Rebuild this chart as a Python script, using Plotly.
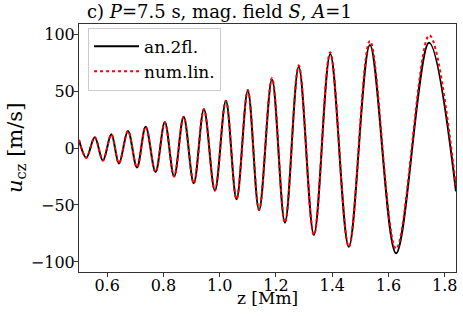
import plotly.graph_objects as go

# z positions [Mm] of the extrema
z_an = [0.500, 0.526, 0.556, 0.585, 0.615, 0.642, 0.674, 0.706, 0.737, 0.772,
        0.805, 0.838, 0.872, 0.908, 0.944, 0.983, 1.022, 1.060, 1.100, 1.140,
        1.186, 1.232, 1.281, 1.335, 1.393, 1.459, 1.534, 1.627, 1.744, 1.840]
u_an = [7.0, -8.5, 9.4, -11.0, 12.0, -13.5, 15.0, -17.0, 18.7, -21.0,
        22.5, -25.0, 27.5, -31.0, 34.0, -37.4, 41.5, -45.0, 50.3, -54.4,
        60.2, -65.5, 71.3, -76.3, 82.5, -86.6, 90.4, -92.4, 92.4, -38.0]

z_num = [0.500, 0.526, 0.556, 0.585, 0.615, 0.642, 0.674, 0.706, 0.737, 0.772,
         0.805, 0.838, 0.872, 0.908, 0.944, 0.983, 1.022, 1.060, 1.100, 1.140,
         1.186, 1.232, 1.281, 1.335, 1.393, 1.459, 1.534, 1.627, 1.745, 1.840]
u_num = [7.0, -8.5, 9.4, -11.0, 12.0, -13.5, 15.0, -17.0, 18.7, -21.0,
         22.5, -25.0, 27.5, -31.0, 34.0, -37.4, 41.5, -45.0, 50.8, -54.4,
         61.5, -65.5, 72.5, -76.3, 84.0, -86.6, 94.0, -88.5, 99.0, -34.0]

x_ticks = [0.6, 0.8, 1.0, 1.2, 1.4, 1.6, 1.8]
y_ticks = [-100, -50, 0, 50, 100]

FONT = "DejaVu Serif"

fig = go.Figure()
fig.add_trace(go.Scatter(x=z_an, y=u_an, mode="lines", name="an.2fl.",
                         line=dict(color="black", width=2, shape="spline", smoothing=1.0)))
fig.add_trace(go.Scatter(x=z_num, y=u_num, mode="lines", name="num.lin.",
                         line=dict(color="red", width=2, dash="dot", shape="spline", smoothing=1.0)))

axis_common = dict(showgrid=False, zeroline=False, showline=True, linecolor="#333",
                   linewidth=1, mirror=True, ticks="outside", ticklen=4, tickcolor="#333",
                   tickfont=dict(family=FONT, size=16, color="black"))

fig.update_layout(
    width=463, height=316,
    margin=dict(l=79, r=7, t=24, b=44),
    plot_bgcolor="white", paper_bgcolor="white",
    font=dict(family=FONT, color="black"),
    title=dict(text="c) <i>P</i>=7.5 s, mag. field <i>S</i>, <i>A</i>=1",
               font=dict(family=FONT, size=18, color="black"),
               x=87/463, xanchor="left", xref="container",
               y=1-12/316, yanchor="middle", yref="container"),
    xaxis=dict(range=[0.5, 1.84], tickvals=x_ticks, ticktext=[f"{v:.1f}" for v in x_ticks],
               ticklabelstandoff=-5, **axis_common),
    yaxis=dict(range=[-108.8, 108.8], tickvals=y_ticks,
               ticktext=["\u2212100", "\u221250", "0", "50", "100"],
               ticklabelstandoff=-4, **axis_common),
    legend=dict(x=0.024, y=0.985, xanchor="left", yanchor="top",
                bgcolor="rgba(255,255,255,0.8)", bordercolor="#ccc", borderwidth=1,
                itemwidth=45,
                font=dict(family=FONT, size=17, color="black"), tracegroupgap=0),
    showlegend=True,
)

fig.add_annotation(text="z [Mm]", xref="paper", yref="paper", x=0.5, y=-(298-272)/248,
                   xanchor="center", yanchor="middle", showarrow=False,
                   font=dict(family=FONT, size=17, color="black"))
fig.add_annotation(text="<i>u</i><sub>cz</sub> [m/s]", xref="paper", yref="paper",
                   x=-(79-16)/377, y=0.5, xanchor="center", yanchor="middle",
                   textangle=-90, showarrow=False,
                   font=dict(family=FONT, size=21, color="black"))

fig.write_html("out.html", config={"displayModeBar": False},
               post_script="document.body.style.margin='0';document.body.style.padding='0';")
